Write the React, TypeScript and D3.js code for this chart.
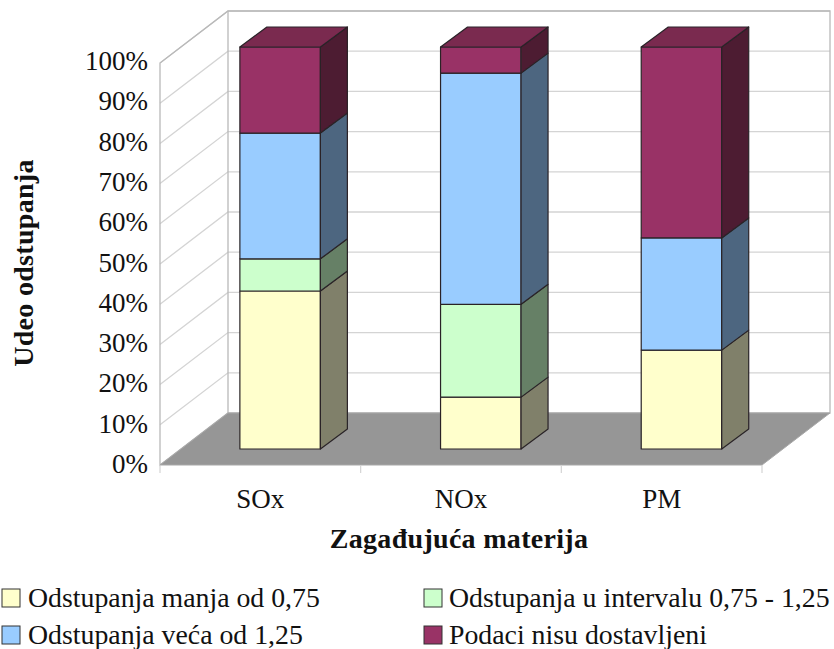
import React from "react";
import * as d3 from "d3";

const categories = ["SOx", "NOx", "PM"];
const seriesNames = [
  "Odstupanja manja od 0,75",
  "Odstupanja u intervalu 0,75 - 1,25",
  "Odstupanja veća od 1,25",
  "Podaci nisu dostavljeni",
];
const below075 = [39.3, 12.9, 24.6];
const between = [8, 23.1, 0];
const above125 = [31.3, 57.5, 27.9];
const noData = [21.4, 6.5, 47.5];
const seriesValues = [below075, between, above125, noData];
const frontColors = ["#FFFFCC", "#CCFFCC", "#99CCFF", "#993366"];
const sideColors = ["#80806A", "#668066", "#4D6680", "#4D1A33"];
const topColor = "#7A2950";
const ticks = d3.range(0, 101, 10);

const serif = "'Liberation Serif', 'Times New Roman', serif";
const W = 834, H = 649;

const x = d3.scaleLinear().domain([0, 3]).range([160, 762]);
const yFront = d3.scaleLinear().domain([0, 100]).range([465, 63]);
const yLabel = d3.scaleLinear().domain([0, 100]).range([473, 70]);
const wallDx = 68, wallDy = -52;
const barFloorDy = -16;
const barW = 80.5, barDx = 27, barDy = -20;
const pts = (a: number[][]) => a.map((p) => p.join(",")).join(" ");
const gridC = "#d4d4d4", wallC = "#b9b9b9", edge = "#2a2428";

export default function App() {
  return (
    <svg width={W} height={H} style={{ position: "absolute", left: 0, top: 0, background: "#fff" }}>
      <defs>
        <filter id="soft" x="-5%" y="-5%" width="110%" height="110%">
          <feGaussianBlur stdDeviation="0.45" />
        </filter>
      </defs>
      <g filter="url(#soft)">
        {ticks.slice(1).map((t) => {
          const y0 = yFront(t);
          return (
            <polyline key={t} fill="none" stroke={gridC} strokeWidth={1.3}
              points={pts([[x(0), y0], [x(0) + wallDx, y0 + wallDy], [x(3) + wallDx, y0 + wallDy]])} />
          );
        })}
        <polygon fill="none" stroke={wallC} strokeWidth={1.3}
          points={pts([[x(0), yFront(0)], [x(0), yFront(100)], [x(0) + wallDx, yFront(100) + wallDy],
            [x(3) + wallDx, yFront(100) + wallDy], [x(3) + wallDx, yFront(0) + wallDy], [x(0) + wallDx, yFront(0) + wallDy]])} />
        <line x1={x(0) + wallDx} x2={x(0) + wallDx} y1={yFront(100) + wallDy} y2={yFront(0) + wallDy} stroke={wallC} strokeWidth={1.3} />
        <polygon fill="#969696" stroke="#a8a8a8" strokeWidth={1}
          points={pts([[x(0), yFront(0)], [x(3), yFront(0)], [x(3) + wallDx, yFront(0) + wallDy], [x(0) + wallDx, yFront(0) + wallDy]])} />
        {d3.range(0, 4).map((i) => (
          <line key={i} x1={x(i)} x2={x(i)} y1={465} y2={473} stroke={gridC} strokeWidth={1.2} />
        ))}
        {categories.map((c, ci) => {
          const bx = x(ci + 0.5) - barW / 2 + 19.8;
          const y = (v: number) => yFront(v) + barFloorDy;
          let acc = 0;
          return (
            <g key={c} stroke={edge} strokeWidth={1.2} strokeLinejoin="round">
              {seriesValues.map((s, si) => {
                const v = s[ci];
                const a = acc, b = acc + v;
                acc = b;
                if (v === 0) return null;
                return (
                  <g key={si}>
                    <rect x={bx} y={y(b)} width={barW} height={y(a) - y(b)} fill={frontColors[si]} />
                    <polygon fill={sideColors[si]}
                      points={pts([[bx + barW, y(a)], [bx + barW, y(b)], [bx + barW + barDx, y(b) + barDy], [bx + barW + barDx, y(a) + barDy]])} />
                  </g>
                );
              })}
              <polygon fill={topColor}
                points={pts([[bx, y(100)], [bx + barW, y(100)], [bx + barW + barDx, y(100) + barDy], [bx + barDx, y(100) + barDy]])} />
            </g>
          );
        })}
      </g>
      <g fontFamily={serif} fill="#111">
        {ticks.map((t) => (
          <text key={t} x={148} y={yLabel(t)} textAnchor="end" fontSize={27}>{t}%</text>
        ))}
        {categories.map((c, i) => (
          <text key={c} x={x(i + 0.5)} y={507.5} textAnchor="middle" fontSize={27}>{c}</text>
        ))}
        <text x={459} y={548} textAnchor="middle" fontSize={28} fontWeight="bold" letterSpacing={0.3}>Zagađujuća materija</text>
        <text transform="translate(33,263) rotate(-90)" textAnchor="middle" fontSize={28} fontWeight="bold" letterSpacing={0.3}>Udeo odstupanja</text>
        {seriesNames.map((n, i) => {
          const lx = i % 2 === 0 ? 2 : 424;
          const ly = i < 2 ? 589 : 626;
          return (
            <g key={n}>
              <rect x={lx} y={ly} width={18} height={18} fill={frontColors[i]} stroke="#333" strokeWidth={1} />
              <text x={i % 2 === 0 ? 28 : 449} y={ly + 18} fontSize={27.8}>{n}</text>
            </g>
          );
        })}
      </g>
    </svg>
  );
}
